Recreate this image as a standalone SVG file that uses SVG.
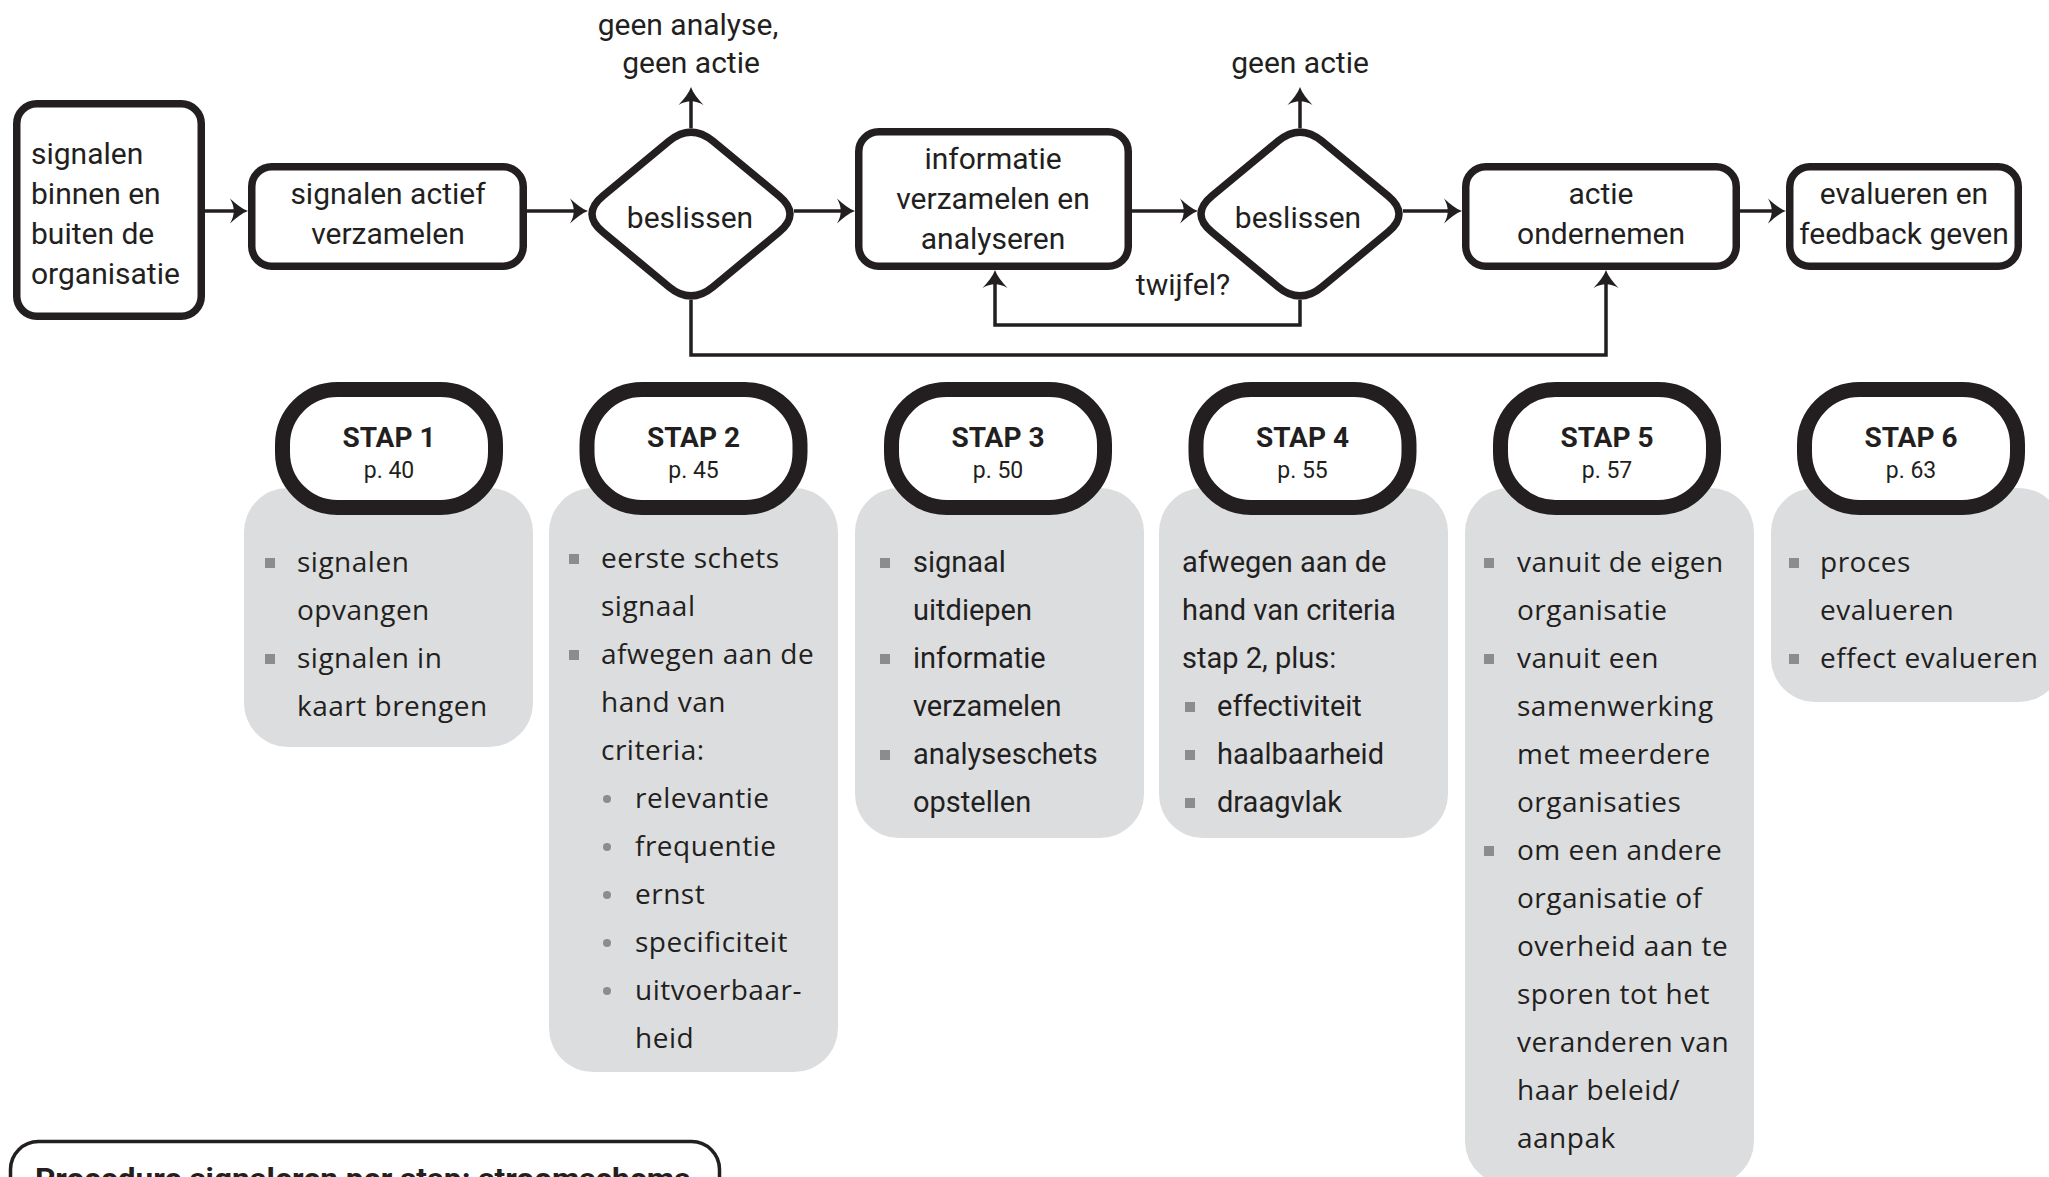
<svg xmlns="http://www.w3.org/2000/svg" xmlns:xlink="http://www.w3.org/1999/xlink" width="2049" height="1177" viewBox="0 0 2049 1177">
<style>
.box{fill:#fff;stroke:#231f20;stroke-width:7.5}
.oval{fill:#fff;stroke:#231f20;stroke-width:15}
.gray{fill:#dcdddf}
.t{font-family:Roboto,"Liberation Sans",sans-serif;font-size:30px;fill:#231f20}
.c{text-anchor:middle}
.l{font-family:"Open Sans","Liberation Sans",sans-serif;font-size:28px;letter-spacing:0.5px;fill:#231f20}
.l2{font-family:Roboto,"Liberation Sans",sans-serif;font-size:29px;fill:#231f20}
.h{font-family:Roboto,"Liberation Sans",sans-serif;font-size:28px;font-weight:bold;fill:#231f20;text-anchor:middle}
.p{font-family:Roboto,"Liberation Sans",sans-serif;font-size:23px;fill:#231f20;text-anchor:middle}
.sq{fill:#8c8c8c}
.conn{fill:none;stroke:#231f20;stroke-width:3.5}
.title{font-family:Roboto,"Liberation Sans",sans-serif;font-size:30px;font-weight:bold;fill:#231f20}
</style>
<defs>
<marker id="ah" markerUnits="userSpaceOnUse" markerWidth="40" markerHeight="40" viewBox="-20 -20 40 40" refX="0" refY="0" orient="auto" overflow="visible">
<path d="M7,0 C1,-2 -5,-7 -11,-12.5 C-6,-4 -6,4 -11,12.5 C-5,7 1,2 7,0 Z" fill="#231f20"/>
</marker>
<path id="dia" class="box" d="M22,-72.8 L88,-18.2 Q110,0 88,18.2 L22,72.8 Q0,91 -22,72.8 L-88,18.2 Q-110,0 -88,-18.2 L-22,-72.8 Q0,-91 22,-72.8 Z"/>
</defs>

<g id="connectors">
<path class="conn" d="M205,211 H241" marker-end="url(#ah)"/>
<path class="conn" d="M527,211 H581" marker-end="url(#ah)"/>
<path class="conn" d="M794,211 H848" marker-end="url(#ah)"/>
<path class="conn" d="M1132,211 H1191" marker-end="url(#ah)"/>
<path class="conn" d="M1403,211 H1455" marker-end="url(#ah)"/>
<path class="conn" d="M1740,211 H1779" marker-end="url(#ah)"/>
<path class="conn" d="M691,128 V94" marker-end="url(#ah)"/>
<path class="conn" d="M1300,128 V94" marker-end="url(#ah)"/>
<path class="conn" d="M1300,300 V325 H995 V277" marker-end="url(#ah)"/>
<path class="conn" d="M691,300 V355 H1606 V277" marker-end="url(#ah)"/>
</g>

<g id="label-geen-analyse">
<text class="t c" x="688" y="35">geen analyse,</text>
<text class="t c" x="691" y="73">geen actie</text>
</g>
<g id="label-geen-actie">
<text class="t c" x="1300" y="73">geen actie</text>
</g>
<g id="label-twijfel">
<text class="t c" x="1183" y="295">twijfel?</text>
</g>

<g id="node-signalen">
<rect class="box" x="16.75" y="103.75" width="184.5" height="212.5" rx="20"/>
<text class="t" x="31" y="164">signalen</text>
<text class="t" x="31" y="204">binnen en</text>
<text class="t" x="31" y="244">buiten de</text>
<text class="t" x="31" y="284">organisatie</text>
</g>
<g id="node-verzamelen">
<rect class="box" x="251.75" y="166.75" width="271.5" height="99.5" rx="20"/>
<text class="t c" x="388" y="204">signalen actief</text>
<text class="t c" x="388" y="244">verzamelen</text>
</g>
<g id="node-beslissen1">
<use xlink:href="#dia" href="#dia" x="691" y="214"/>
<text class="t c" x="690" y="228">beslissen</text>
</g>
<g id="node-informatie">
<rect class="box" x="858.75" y="131.75" width="269.5" height="134.5" rx="20"/>
<text class="t c" x="993" y="169">informatie</text>
<text class="t c" x="993" y="209">verzamelen en</text>
<text class="t c" x="993" y="249">analyseren</text>
</g>
<g id="node-beslissen2">
<use xlink:href="#dia" href="#dia" x="1300" y="214"/>
<text class="t c" x="1298" y="228">beslissen</text>
</g>
<g id="node-actie">
<rect class="box" x="1465.75" y="166.75" width="270.5" height="99.5" rx="20"/>
<text class="t c" x="1601" y="204">actie</text>
<text class="t c" x="1601" y="244">ondernemen</text>
</g>
<g id="node-evalueren">
<rect class="box" x="1789.75" y="166.75" width="228.5" height="99.5" rx="20"/>
<text class="t c" x="1904" y="204">evalueren en</text>
<text class="t c" x="1904" y="244">feedback geven</text>
</g>

<g id="stap1">
<rect class="gray" x="244" y="488" width="289" height="259" rx="44"/>
<rect class="oval" x="282.5" y="389.5" width="213" height="118" rx="55"/>
<text class="h" x="389" y="447">STAP 1</text>
<text class="p" x="389" y="478">p. 40</text>
<rect class="sq" x="265" y="558" width="10" height="10"/>
<text class="l" x="297" y="572">signalen</text>
<text class="l" x="297" y="620">opvangen</text>
<rect class="sq" x="265" y="654" width="10" height="10"/>
<text class="l" x="297" y="668">signalen in</text>
<text class="l" x="297" y="716">kaart brengen</text>
</g>

<g id="stap2">
<rect class="gray" x="549" y="488" width="289" height="584" rx="44"/>
<rect class="oval" x="587" y="389.5" width="213" height="118" rx="55"/>
<text class="h" x="693.5" y="447">STAP 2</text>
<text class="p" x="693.5" y="478">p. 45</text>
<rect class="sq" x="569" y="554" width="10" height="10"/>
<text class="l" x="601" y="568">eerste schets</text>
<text class="l" x="601" y="616">signaal</text>
<rect class="sq" x="569" y="650" width="10" height="10"/>
<text class="l" x="601" y="664">afwegen aan de</text>
<text class="l" x="601" y="712">hand van</text>
<text class="l" x="601" y="760">criteria:</text>
<circle class="sq" cx="607" cy="799" r="4"/>
<text class="l" x="635" y="808">relevantie</text>
<circle class="sq" cx="607" cy="847" r="4"/>
<text class="l" x="635" y="856">frequentie</text>
<circle class="sq" cx="607" cy="895" r="4"/>
<text class="l" x="635" y="904">ernst</text>
<circle class="sq" cx="607" cy="943" r="4"/>
<text class="l" x="635" y="952">specificiteit</text>
<circle class="sq" cx="607" cy="991" r="4"/>
<text class="l" x="635" y="1000">uitvoerbaar-</text>
<text class="l" x="635" y="1048">heid</text>
</g>

<g id="stap3">
<rect class="gray" x="855" y="488" width="289" height="350" rx="44"/>
<rect class="oval" x="891.5" y="389.5" width="213" height="118" rx="55"/>
<text class="h" x="998" y="447">STAP 3</text>
<text class="p" x="998" y="478">p. 50</text>
<rect class="sq" x="880" y="558" width="10" height="10"/>
<text class="l2" x="913" y="572">signaal</text>
<text class="l2" x="913" y="620">uitdiepen</text>
<rect class="sq" x="880" y="654" width="10" height="10"/>
<text class="l2" x="913" y="668">informatie</text>
<text class="l2" x="913" y="716">verzamelen</text>
<rect class="sq" x="880" y="750" width="10" height="10"/>
<text class="l2" x="913" y="764">analyseschets</text>
<text class="l2" x="913" y="812">opstellen</text>
</g>

<g id="stap4">
<rect class="gray" x="1159" y="488" width="289" height="350" rx="44"/>
<rect class="oval" x="1196" y="389.5" width="213" height="118" rx="55"/>
<text class="h" x="1302.5" y="447">STAP 4</text>
<text class="p" x="1302.5" y="478">p. 55</text>
<text class="l2" x="1182" y="572">afwegen aan de</text>
<text class="l2" x="1182" y="620">hand van criteria</text>
<text class="l2" x="1182" y="668">stap 2, plus:</text>
<rect class="sq" x="1185" y="702" width="10" height="10"/>
<text class="l2" x="1217" y="716">effectiviteit</text>
<rect class="sq" x="1185" y="750" width="10" height="10"/>
<text class="l2" x="1217" y="764">haalbaarheid</text>
<rect class="sq" x="1185" y="798" width="10" height="10"/>
<text class="l2" x="1217" y="812">draagvlak</text>
</g>

<g id="stap5">
<rect class="gray" x="1465" y="488" width="289" height="697" rx="44"/>
<rect class="oval" x="1500.5" y="389.5" width="213" height="118" rx="55"/>
<text class="h" x="1607" y="447">STAP 5</text>
<text class="p" x="1607" y="478">p. 57</text>
<rect class="sq" x="1484" y="558" width="10" height="10"/>
<text class="l" x="1517" y="572">vanuit de eigen</text>
<text class="l" x="1517" y="620">organisatie</text>
<rect class="sq" x="1484" y="654" width="10" height="10"/>
<text class="l" x="1517" y="668">vanuit een</text>
<text class="l" x="1517" y="716">samenwerking</text>
<text class="l" x="1517" y="764">met meerdere</text>
<text class="l" x="1517" y="812">organisaties</text>
<rect class="sq" x="1484" y="846" width="10" height="10"/>
<text class="l" x="1517" y="860">om een andere</text>
<text class="l" x="1517" y="908">organisatie of</text>
<text class="l" x="1517" y="956">overheid aan te</text>
<text class="l" x="1517" y="1004">sporen tot het</text>
<text class="l" x="1517" y="1052">veranderen van</text>
<text class="l" x="1517" y="1100">haar beleid/</text>
<text class="l" x="1517" y="1148">aanpak</text>
</g>

<g id="stap6">
<rect class="gray" x="1771" y="488" width="292" height="214" rx="44"/>
<rect class="oval" x="1804.5" y="389.5" width="213" height="118" rx="55"/>
<text class="h" x="1911" y="447">STAP 6</text>
<text class="p" x="1911" y="478">p. 63</text>
<rect class="sq" x="1789" y="558" width="10" height="10"/>
<text class="l" x="1820" y="572">proces</text>
<text class="l" x="1820" y="620">evalueren</text>
<rect class="sq" x="1789" y="654" width="10" height="10"/>
<text class="l" x="1820" y="668">effect evalueren</text>
</g>

<g id="title">
<rect x="10.5" y="1141.5" width="709" height="100" rx="28" fill="#fff" stroke="#231f20" stroke-width="3.5"/>
<text class="title" x="35" y="1189" textLength="656" lengthAdjust="spacingAndGlyphs">Procedure signaleren per stap: stroomschema</text>
</g>
</svg>
